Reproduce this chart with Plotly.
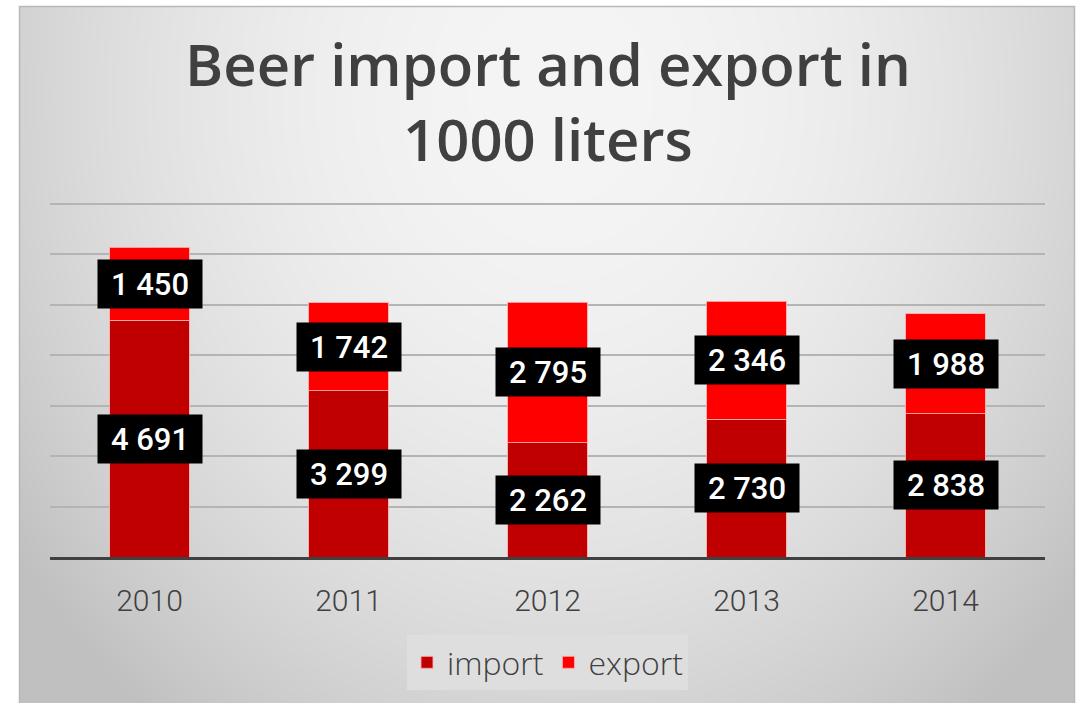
import base64
import struct
import zlib

import plotly.graph_objects as go

# ---- data -------------------------------------------------------------
years = ["2010", "2011", "2012", "2013", "2014"]
imports = [4691, 3299, 2262, 2730, 2838]
exports = [1450, 1742, 2795, 2346, 1988]
series_names = ["import", "export"]
title_text = "Beer import and export in<br>1000 liters"

# ---- figure geometry ---------------------------------------------------
W, H = 1076, 703
Y_TOP = 7040          # a little head-room so the 7000 grid line is kept
ML, MR, MT, MB = 50, 31, 202, 146
PW, PH = W - ML - MR, H - MT - MB

# chart card (pixel coordinates in the page)
CARD_X0, CARD_Y0, CARD_X1, CARD_Y1 = 19, 6, 1075, 703


def px_to_paper_x(px):
    return (px - ML) / PW


def px_to_paper_y(py):
    return (H - MB - py) / PH


# ---- radial grey background as an inline PNG ---------------------------
def radial_png(w, h):
    cx, cy = 560.0 - CARD_X0, 95.0 - CARD_Y0
    rx, ry = 600.0, 700.0
    rows = bytearray()
    for j in range(h):
        rows.append(0)
        dy2 = ((j - cy) / ry) ** 2
        for i in range(w):
            d2 = ((i - cx) / rx) ** 2 + dy2
            v = 245.0 - 42.0 * d2
            if v < 192.0:
                v = 192.0
            rows.append(int(v))

    def chunk(tag, data):
        c = struct.pack(">I", len(data)) + tag + data
        return c + struct.pack(">I", zlib.crc32(tag + data) & 0xFFFFFFFF)

    png = b"\x89PNG\r\n\x1a\n"
    png += chunk(b"IHDR", struct.pack(">IIBBBBB", w, h, 8, 0, 0, 0, 0))
    png += chunk(b"IDAT", zlib.compress(bytes(rows), 9))
    png += chunk(b"IEND", b"")
    return "data:image/png;base64," + base64.b64encode(png).decode()


card_w, card_h = CARD_X1 - CARD_X0, CARD_Y1 - CARD_Y0
bg_src = radial_png(card_w, card_h)

# ---- traces ------------------------------------------------------------
IMPORT_COLOR = "#c00000"
EXPORT_COLOR = "#ff0000"
EDGE = "rgba(255,170,170,0.9)"

fig = go.Figure()
fig.add_trace(go.Bar(
    x=years, y=imports, name=series_names[0],
    marker=dict(color=IMPORT_COLOR, line=dict(color=EDGE, width=1)),
    hoverinfo="skip",
))
fig.add_trace(go.Bar(
    x=years, y=exports, name=series_names[1],
    marker=dict(color=EXPORT_COLOR, line=dict(color=EDGE, width=1)),
    hoverinfo="skip",
))


def fmt(v):
    return f"{v:,}".replace(",", " ")


# value labels in black boxes, centred on each segment
# (x given as the category index so the year strings are not read as numbers)
annotations = []
for idx, (imp, exp) in enumerate(zip(imports, exports)):
    for val, centre in ((imp, imp / 2), (exp, imp + exp / 2)):
        annotations.append(dict(
            x=idx, y=centre, xref="x", yref="y",
            text=fmt(val), showarrow=False,
            font=dict(family="Roboto", size=31, color="white", weight=500),
            bgcolor="black", width=100, height=44, borderpad=2,
            align="center", valign="middle",
        ))

# chart title
annotations.append(dict(
    x=0.5, y=px_to_paper_y(101), xref="paper", yref="paper",
    xanchor="center", yanchor="middle",
    text=title_text, showarrow=False,
    font=dict(family="Open Sans", size=58, color="#404040", weight=600),
    align="center",
))

fig.update_layout(
    width=W, height=H,
    margin=dict(l=ML, r=MR, t=MT, b=MB, pad=0),
    paper_bgcolor="white",
    plot_bgcolor="rgba(0,0,0,0)",
    barmode="stack",
    bargap=0.6,
    showlegend=True,
    legend=dict(
        orientation="h", x=0.5, xanchor="center",
        y=px_to_paper_y(635), yanchor="top",
        bgcolor="#dedede",
        font=dict(family="Open Sans", size=32, color="#404040", weight=300),
        traceorder="normal", itemwidth=30,
        itemclick=False, itemdoubleclick=False,
    ),
    xaxis=dict(
        type="category",
        categoryorder="array", categoryarray=years,
        range=[-0.5, len(years) - 0.5], autorange=False,
        showgrid=False, zeroline=False,
        showline=True, linecolor="#404040", linewidth=3,
        ticks="", ticklabelstandoff=15,
        tickfont=dict(family="Roboto", size=30, color="#404040", weight=300),
        fixedrange=True,
    ),
    yaxis=dict(
        range=[0, Y_TOP], autorange=False, tick0=0, dtick=1000,
        showgrid=True, gridcolor="#b4b4b4", gridwidth=1.5,
        zeroline=False, showticklabels=False, showline=False,
        fixedrange=True,
    ),
    annotations=annotations,
    images=[dict(
        source=bg_src, xref="paper", yref="paper",
        x=px_to_paper_x(CARD_X0), y=px_to_paper_y(CARD_Y0),
        sizex=card_w / PW, sizey=card_h / PH,
        xanchor="left", yanchor="top", sizing="stretch", layer="below",
    )],
    shapes=[dict(
        type="rect", xref="paper", yref="paper",
        x0=px_to_paper_x(CARD_X0 + 0.5), x1=px_to_paper_x(CARD_X1 - 0.5),
        y0=px_to_paper_y(CARD_Y1 + 2), y1=px_to_paper_y(CARD_Y0 + 0.5),
        line=dict(color="#b8b8b8", width=1.5), layer="below",
    )],
)

fig.write_html("out.html", config={"displayModeBar": False})
